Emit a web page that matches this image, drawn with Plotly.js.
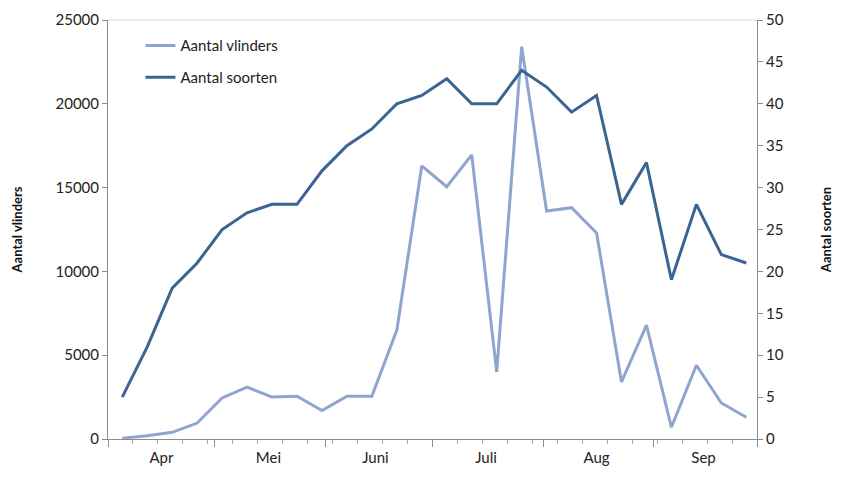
<!DOCTYPE html>
<html>
<head>
<meta charset="utf-8">
<script src="https://cdn.plot.ly/plotly-3.0.1.min.js"></script>
<style>html,body{margin:0;padding:0;background:#fff;}#chart{width:842px;height:492px;}</style>
</head>
<body>
<div id="chart"></div>
<script>
// Weekly observation dates
const dates = ['2000-04-05','2000-04-12','2000-04-19','2000-04-26','2000-05-03','2000-05-10','2000-05-17','2000-05-24','2000-05-31','2000-06-07','2000-06-14','2000-06-21','2000-06-28','2000-07-05','2000-07-12','2000-07-19','2000-07-26','2000-08-02','2000-08-09','2000-08-16','2000-08-23','2000-08-30','2000-09-06','2000-09-13','2000-09-20','2000-09-27'];
// Aantal vlinders (left axis)
const vlinders = [50,200,400,950,2450,3100,2500,2550,1700,2550,2550,6500,16300,15050,16950,4000,23400,13600,13800,12300,3400,6800,700,4400,2150,1300];
// Aantal soorten (right axis)
const soorten = [5,11,18,21,25,27,28,28,32,35,37,40,41,43,40,40,44,42,39,41,28,33,19,28,22,21];
// Month boundaries and labels
const monthStarts = ['2000-04-01','2000-05-01','2000-06-01','2000-07-01','2000-08-01','2000-09-01','2000-09-30'];
const monthMids = ['2000-04-16','2000-05-16','2000-06-15','2000-07-16','2000-08-16','2000-09-15'];
const monthLabels = ['Apr','Mei','Juni','Juli','Aug','Sep'];

const FONT = 'Lato, "Open Sans", Arial, sans-serif';
const axisColor = '#8c8c8c';
const xRange = ['2000-04-01','2000-09-30'];

const traces = [
  {x: dates, y: vlinders, name: 'Aantal vlinders', type: 'scatter', mode: 'lines',
   line: {color: '#8fa5cf', width: 3}, yaxis: 'y', xaxis: 'x', legend: 'legend'},
  {x: dates, y: soorten, name: 'Aantal soorten', type: 'scatter', mode: 'lines',
   line: {color: '#3b6492', width: 3}, yaxis: 'y2', xaxis: 'x', legend: 'legend2'}
];

const layout = {
  width: 842, height: 492,
  margin: {l: 108, r: 85, t: 20, b: 53},
  paper_bgcolor: '#fff', plot_bgcolor: '#fff',
  font: {family: FONT, size: 14, color: '#222'},
  showlegend: true,
  legend: {x: 0.05, y: 0.978, xanchor: 'left', yanchor: 'top', bgcolor: 'rgba(0,0,0,0)',
           font: {family: FONT, size: 15, color: '#222'}},
  legend2: {x: 0.05, y: 0.902, xanchor: 'left', yanchor: 'top', bgcolor: 'rgba(0,0,0,0)',
           font: {family: FONT, size: 15, color: '#222'}},
  xaxis: {
    type: 'date', range: xRange, showgrid: false, zeroline: false,
    showline: true, linecolor: axisColor, linewidth: 1,
    tickmode: 'array', tickvals: monthStarts, ticktext: monthStarts.map(() => ''),
    ticks: 'outside', ticklen: 7, tickcolor: axisColor, tickwidth: 1,
    minor: {dtick: 7*86400000, tick0: '2000-04-01', ticks: 'outside', ticklen: 4, tickcolor: '#aaaaaa', showgrid: false},
    fixedrange: true
  },
  xaxis2: {
    type: 'date', range: xRange, overlaying: 'x', anchor: 'y', side: 'bottom',
    showgrid: false, zeroline: false, showline: false,
    tickmode: 'array', tickvals: monthMids, ticktext: monthLabels,
    ticks: 'outside', ticklen: 5, tickcolor: 'rgba(0,0,0,0)',
    tickfont: {family: FONT, size: 15, color: '#222'}
  },
  yaxis: {
    range: [0, 25000], dtick: 5000, tick0: 0, tickformat: 'd', showgrid: false, zeroline: false,
    showline: true, linecolor: axisColor, ticks: 'outside', ticklen: 5, tickcolor: axisColor,
    tickfont: {family: FONT, size: 15, color: '#222'},
    title: {text: '<b>Aantal vlinders</b>', font: {family: FONT, size: 13, color: '#111'}, standoff: 29}
  },
  yaxis2: {
    range: [0, 50], dtick: 5, tick0: 0, overlaying: 'y', side: 'right', anchor: 'x',
    showgrid: false, zeroline: false,
    showline: true, linecolor: axisColor, ticks: 'outside', ticklen: 5, tickcolor: axisColor,
    tickfont: {family: FONT, size: 15, color: '#222'},
    title: {text: '<b>Aantal soorten</b>', font: {family: FONT, size: 13, color: '#111'}, standoff: 39}
  },
  shapes: [
    {type: 'line', xref: 'paper', yref: 'paper', x0: 0, x1: 1, y0: 1, y1: 1,
     line: {color: '#d9d9d9', width: 1}}
  ]
};

Plotly.newPlot('chart', [traces[0], traces[1],
  {x: [xRange[0]], y: [null], xaxis: 'x2', yaxis: 'y', showlegend: false, hoverinfo: 'skip', mode: 'lines'}],
  layout, {displayModeBar: false, staticPlot: true});
</script>
</body>
</html>
